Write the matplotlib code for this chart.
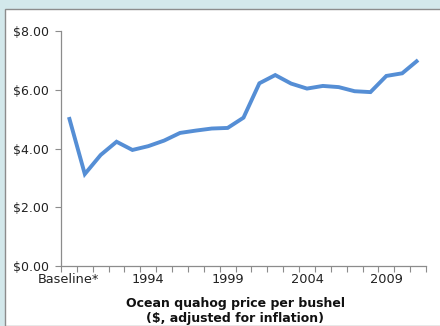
import matplotlib
matplotlib.use("Agg")
import matplotlib.pyplot as plt
from matplotlib.patches import Rectangle

# Ocean quahog price per bushel, inflation adjusted
categories = ["Baseline*"] + [str(y) for y in range(1990, 2012)]
prices = [5.07, 3.13, 3.78, 4.23, 3.95, 4.08, 4.27, 4.53, 4.61, 4.68, 4.70,
          5.05, 6.22, 6.50, 6.21, 6.04, 6.13, 6.09, 5.95, 5.92, 6.47, 6.56, 7.01]
label_every = 5
y_ticks = [0, 2, 4, 6, 8]

plt.rcParams['font.family'] = ['DejaVu Sans']

fig = plt.figure(figsize=(4.4, 3.26), dpi=100)
fig.patch.set_facecolor("#d3e8eb")

# white panel behind the chart
W, H = 440, 326
fig.patches.append(Rectangle((5 / W, 0), 1, 1 - 9 / H, transform=fig.transFigure,
                             facecolor="white", edgecolor="#8c8c8c", linewidth=1.0,
                             zorder=-5))

ax = fig.add_axes([61 / W, 60 / H, 365 / W, 235 / H])
ax.set_facecolor("none")

x = list(range(len(prices)))
ax.plot(x, prices, color="#558ed5", linewidth=2.8, solid_capstyle="butt",
        solid_joinstyle="miter")

ax.set_xlim(-0.5, len(prices) - 0.5)
ax.set_ylim(0, 8)

# category boundary ticks, labels only on every fifth category
ax.set_xticks([i - 0.5 for i in range(len(prices) + 1)])
ax.set_xticklabels([])
ax.set_xticks(x[::label_every], minor=True)
ax.set_xticklabels(categories[::label_every], minor=True)
ax.tick_params(axis="x", which="major", length=4, width=0.8, color="#8c8c8c",
               direction="out")
ax.tick_params(axis="x", which="minor", length=0, pad=5, labelsize=9.3,
               labelcolor="#222222")

ax.set_yticks(y_ticks)
ax.set_yticklabels([f"${v:.2f}" for v in y_ticks])
ax.tick_params(axis="y", length=4, width=0.8, color="#8c8c8c", pad=5,
               labelsize=9.0, labelcolor="#222222")

for side in ("top", "right"):
    ax.spines[side].set_visible(False)
for side in ("left", "bottom"):
    ax.spines[side].set_color("#8c8c8c")
    ax.spines[side].set_linewidth(0.9)

fig.text(235 / W, 1 - 311 / H,
         "Ocean quahog price per bushel\n($, adjusted for inflation)",
         ha="center", va="center", fontsize=9.0, fontweight="bold",
         color="#111111", linespacing=1.2)

fig.savefig("out.png", dpi=100)
